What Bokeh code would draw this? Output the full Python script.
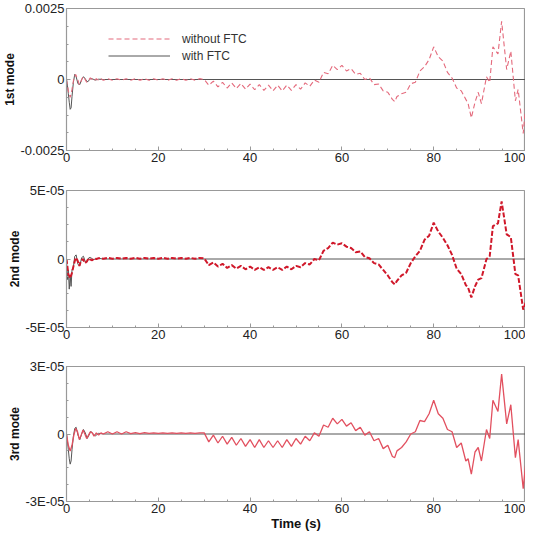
from bokeh.plotting import figure
from bokeh.layouts import column
from bokeh.models import FixedTicker, Legend, LegendItem
from bokeh.embed import file_html
from bokeh.resources import INLINE

# ---------------- data ----------------
time_early = [0, 0.4, 0.8, 1.2, 1.6, 2.0, 2.4, 2.8, 3.2, 3.6, 4.0, 4.4, 4.8, 5.2, 5.6, 6.0, 6.5, 7.0, 7.5]
time_mid = list(range(8, 71))
time_late = [71, 71.5, 72, 73, 74, 75, 76, 77, 78, 79, 80, 81, 82, 83, 84, 85, 86, 87, 87.5, 88.2,
             89, 89.7, 90.4, 91.5, 92.2, 92.9, 94, 94.8, 95.9, 96.8, 97.8, 98.4, 99.5, 100]
time_s = time_early + time_mid + time_late

# 1st mode, without FTC (units of 1e-4)
mode1_without_e4 = [
    0, -4.0, -6.3, -3.5, 0.5, 1.8, 0.2, -1.8, -0.5, 1.0, 0.2, -1.0, -0.2, 0.6, 0.0, -0.5, 0.3, -0.3, 0.3,
    # 8 .. 29
    -0.3, 0.3, -0.3, 0.3, -0.3, 0.3, -0.3, 0.3, -0.3, 0.3, -0.3, 0.3, -0.3, 0.3, -0.3, 0.3, -0.3, 0.3, -0.3, 0.3, -0.3, 0.3,
    # 30 .. 70
    0.0, -2.0, -0.6, -2.6, -1.0, -3.0, -1.2, -3.2, -1.4, -3.4, -1.6, -3.6, -1.8, -3.8, -2.0, -4.0, -2.0, -4.0, -2.0, -3.8,
    -1.8, -3.4, -1.2, -2.4, -0.2, -1.0, 2.5, 2.0, 5.0, 3.5, 5.0, 3.0, 3.8, 1.8, 2.2, 0.0, 0.6, -1.8, -1.6, -4.0, -4.5,
    # 71 .. 100
    -7.0, -7.8, -6.0, -5.0, -4.5, -1.5, -1.0, 3.0, 4.5, 7.0, 11.5, 8.0, 6.5, 2.5, 0.5, -3.0, -4.0, -7.0, -8.5, -13.5,
    -8.0, -4.5, -8.5, 1.0, -1.0, 11.5, 9.0, 20.5, 3.5, 10.0, -7.5, -3.5, -19.0, -10.0,
]

# 2nd mode, without FTC (units of 1e-5)
mode2_without_e5 = [
    0, -1.1, -1.4, -1.0, -0.4, 0.1, -0.1, -0.5, -0.1, 0.0, -0.3, -0.2, 0.05, -0.05, -0.1, 0.05, 0.0, 0.05, 0.05,
    0.02, 0.08, 0.02, 0.08, 0.02, 0.08, 0.02, 0.08, 0.02, 0.08, 0.02, 0.08, 0.02, 0.08, 0.02, 0.08, 0.02, 0.08, 0.02, 0.08, 0.02, 0.08,
    0.05, -0.45, -0.25, -0.55, -0.35, -0.65, -0.45, -0.7, -0.5, -0.75, -0.55, -0.8, -0.6, -0.8, -0.6, -0.8, -0.6, -0.8, -0.55, -0.75,
    -0.5, -0.6, -0.3, -0.4, 0.0, -0.1, 0.6, 0.8, 1.2, 1.05, 1.15, 0.9, 0.8, 0.5, 0.55, 0.15, 0.05, -0.3, -0.4, -0.8, -1.2,
    -1.7, -1.85, -1.6, -1.2, -1.0, -0.3, 0.2, 0.6, 1.4, 1.7, 2.65, 2.0, 1.55, 1.0, 0.3, -0.7, -1.1, -1.9, -2.1, -2.8,
    -2.0, -1.5, -1.4, 0.0, 0.2, 2.4, 2.6, 4.2, 1.8, 1.6, -1.1, -1.2, -3.7, -3.2,
]

# 3rd mode, without FTC (units of 1e-5)
mode3_without_e5 = [
    0, -0.5, -0.76, -0.5, -0.05, 0.25, 0.1, -0.25, -0.05, 0.18, 0.0, -0.2, -0.05, 0.1, 0.05, -0.1, 0.05, -0.05, 0.05,
    0.0, 0.1, 0.0, 0.1, 0.0, 0.1, 0.02, 0.06, 0.02, 0.06, 0.03, 0.05, 0.03, 0.05, 0.03, 0.05, 0.03, 0.05, 0.03, 0.05, 0.03, 0.05,
    0.05, -0.35, -0.05, -0.4, -0.1, -0.45, -0.15, -0.5, -0.2, -0.55, -0.25, -0.6, -0.25, -0.6, -0.3, -0.6, -0.3, -0.6, -0.25, -0.55,
    -0.2, -0.45, -0.1, -0.3, 0.05, -0.1, 0.4, 0.3, 0.7, 0.45, 0.65, 0.35, 0.5, 0.15, 0.3, -0.05, 0.1, -0.3, -0.2, -0.65, -0.5,
    -1.0, -1.05, -0.75, -0.6, -0.35, 0.0, 0.1, 0.6, 0.55, 0.9, 1.5, 0.9, 0.7, 0.2, 0.1, -0.6, -0.4, -1.2, -1.1, -1.78,
    -0.8, -0.6, -1.2, 0.2, -0.2, 1.5, 1.0, 2.66, 0.45, 1.3, -1.05, -0.25, -2.43, -1.4,
]

# with FTC (decays to zero)
time_with = [0, 0.2, 0.4, 0.6, 0.8, 1.0, 1.2, 1.5, 1.8, 2.1, 2.5, 2.9, 3.3, 3.7, 4.1, 4.5, 4.9, 5.3, 5.8, 6.3, 7.0, 8.0, 100]
mode1_with_e4 = [0, -2, -5, -8, -10.5, -10, -6, -1, 1.8, 1.0, -1.5, -1.8, 0, 1.0, 0.2, -0.8, -0.4, 0.4, 0.1, -0.2, 0.1, 0, 0]
mode2_with_e5 = [0, -1.5, -0.8, -2.2, -1.2, -2.0, -0.8, -0.6, 0.2, 0.3, -0.4, -0.5, 0.1, 0.2, -0.2, -0.2, 0.1, 0.1, -0.05, 0.0, 0.05, 0, 0]
mode3_with_e5 = [0, -0.3, -0.7, -1.1, -1.34, -1.2, -0.7, -0.1, 0.25, 0.3, -0.05, -0.25, 0, 0.2, 0.05, -0.2, -0.05, 0.12, 0.0, -0.08, 0.03, 0, 0]

x_ticks = [0, 20, 40, 60, 80, 100]
mode_names = ["1st mode", "2nd mode", "3rd mode"]
y_limits = [0.0025, 5e-05, 3e-05]
y_tick_labels = [["-0.0025", "0", "0.0025"], ["-5E-05", "0", "5E-05"], ["-3E-05", "0", "3E-05"]]
legend_labels = ["without FTC", "with FTC"]
x_title = "Time (s)"

# ---------------- plotting ----------------
FONT = "Liberation Sans"
without_series = [[v * 1e-4 for v in mode1_without_e4],
                  [v * 1e-5 for v in mode2_without_e5],
                  [v * 1e-5 for v in mode3_without_e5]]
with_series = [[v * 1e-4 for v in mode1_with_e4],
               [v * 1e-5 for v in mode2_with_e5],
               [v * 1e-5 for v in mode3_with_e5]]

red_styles = [
    dict(line_color="#e46a7c", line_width=1.1, line_dash="5 3"),
    dict(line_color="#d0182a", line_width=2.0, line_dash="5 2"),
    dict(line_color="#e2505f", line_width=1.3),
]

heights = [172, 176, 186]
tops = [8, 18, 18]
bottoms = [22, 21, 33]

figs = []
for i in range(3):
    lim = y_limits[i]
    p = figure(width=525, height=heights[i], output_backend="svg", toolbar_location=None,
               x_range=(0, 100), y_range=(-lim, lim),
               min_border_left=62, min_border_right=0,
               min_border_top=tops[i], min_border_bottom=bottoms[i])
    p.xgrid.visible = False
    p.ygrid.visible = False
    p.outline_line_color = "#999999"
    p.outline_line_width = 1.2
    p.background_fill_color = "white"
    p.border_fill_color = "white"

    p.xaxis.ticker = FixedTicker(ticks=x_ticks, minor_ticks=list(range(0, 101, 5)))
    p.yaxis.ticker = FixedTicker(ticks=[-lim, 0, lim],
                                 minor_ticks=[-lim + k * lim / 4 for k in range(9)])
    p.yaxis.major_label_overrides = {-lim: y_tick_labels[i][0], 0: y_tick_labels[i][1], lim: y_tick_labels[i][2]}
    for ax in (p.xaxis, p.yaxis):
        ax.axis_line_color = "#999999"
        ax.major_tick_line_color = "#999999"
        ax.minor_tick_line_color = "#999999"
        ax.major_tick_in = 4
        ax.major_tick_out = 0
        ax.minor_tick_in = 2
        ax.minor_tick_out = 0
        ax.major_label_text_font = FONT
        ax.major_label_text_font_size = "13px"
        ax.major_label_text_color = "#222222"
        ax.major_label_standoff = 2

    p.yaxis.axis_label = mode_names[i]
    p.yaxis.axis_label_text_font = FONT
    p.yaxis.axis_label_text_font_size = "12px"
    p.yaxis.axis_label_text_font_style = "bold"
    p.yaxis.axis_label_text_color = "#111111"
    p.yaxis.axis_label_standoff = 0

    r_with = p.line(time_with, with_series[i], line_color="#555555", line_width=1.0)
    r_without = p.line(time_s, without_series[i], **red_styles[i])

    if i == 0:
        leg = Legend(items=[LegendItem(label=legend_labels[0], renderers=[r_without]),
                            LegendItem(label=legend_labels[1], renderers=[r_with])],
                     location=(42, 86), padding=0, margin=0, spacing=0,
                     glyph_width=62, glyph_height=17, label_height=17, label_standoff=12,
                     label_text_font=FONT, label_text_font_size="12px", label_text_color="#333333",
                     border_line_color=None, background_fill_alpha=0)
        p.add_layout(leg)
    if i == 2:
        p.xaxis.axis_label = x_title
        p.xaxis.axis_label_text_font = FONT
        p.xaxis.axis_label_text_font_size = "13px"
        p.xaxis.axis_label_text_font_style = "bold"
        p.xaxis.axis_label_text_color = "#111111"
        p.xaxis.axis_label_standoff = 0
    figs.append(p)

layout = column(*figs, spacing=0)
open("out.html", "w").write(file_html(layout, INLINE))
